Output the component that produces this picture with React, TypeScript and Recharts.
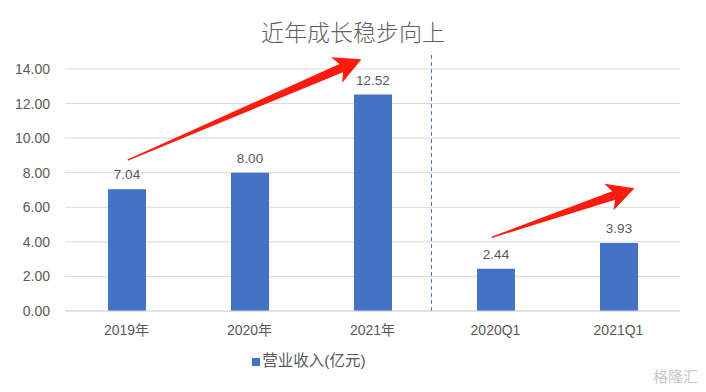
import React from 'react';
import {
  BarChart,
  Bar,
  XAxis,
  YAxis,
  CartesianGrid,
  Legend,
  LabelList,
  ReferenceLine,
} from 'recharts';

// categories and revenue (亿元)
const categories = ['2019年', '2020年', '2021年', '2020Q1', '2021Q1'];
const revenue = [7.04, 8.0, 12.52, 2.44, 3.93];
const yTicks = [0, 2, 4, 6, 8, 10, 12, 14];

// annotation arrows, in (category-band units, value) coordinates
const arrowTails = [
  { x: 0.51, y: 8.73 },
  { x: 3.47, y: 4.26 },
];
const arrowTips = [
  { x: 2.41, y: 14.56 },
  { x: 4.63, y: 7.1 },
];
// dashed divider between annual and quarterly groups
const divider = [
  { x: 2.98, y: 0 },
  { x: 2.98, y: 15 },
];

const data = categories.map((name, i) => ({ name, value: revenue[i], pos: i + 0.5 }));

const GRAY = '#595959';
const BLUE = '#4472C4';
const FONT = "'Liberation Sans', Arial, 'Noto Sans CJK SC', sans-serif";

function Arrow(props: any) {
  const { x1, y1, x2, y2 } = props;
  const dx = x2 - x1;
  const dy = y2 - y1;
  const len = Math.sqrt(dx * dx + dy * dy);
  const ux = dx / len;
  const uy = dy / len;
  const nx = -uy;
  const ny = ux;
  const headLen = 27;
  const headHalf = 14;
  const shaftHalf = 4.5;
  const bx = x2 - ux * headLen;
  const by = y2 - uy * headLen;
  // inner notch a little ahead of the wings
  const ix = x2 - ux * (headLen - 5);
  const iy = y2 - uy * (headLen - 5);
  const pts = [
    [x1 + nx * 0.6, y1 + ny * 0.6],
    [ix + nx * shaftHalf, iy + ny * shaftHalf],
    [bx + nx * headHalf, by + ny * headHalf],
    [x2, y2],
    [bx - nx * headHalf, by - ny * headHalf],
    [ix - nx * shaftHalf, iy - ny * shaftHalf],
    [x1 - nx * 0.6, y1 - ny * 0.6],
  ];
  return <polygon points={pts.map((p) => p.join(',')).join(' ')} fill="#FF1A0E" />;
}

export default function App() {
  return (
    <div style={{ position: 'relative', width: 706, height: 392, margin: -8, background: '#fff', fontFamily: FONT }}>
      <div
        style={{
          position: 'absolute',
          left: 3,
          top: 4,
          width: 696,
          height: 383,
          border: '1px solid #d9d9d9',
          boxSizing: 'border-box',
        }}
      />
      <div
        style={{
          position: 'absolute',
          top: 16,
          left: 0,
          width: 706,
          textAlign: 'center',
          fontSize: 23,
          color: '#5f5f5f',
          fontFamily: "'Noto Sans CJK SC', sans-serif",
          fontWeight: 300,
          lineHeight: '30px',
        }}
      >
        近年成长稳步向上
      </div>
      <div
        style={{
          position: 'absolute',
          right: 8,
          bottom: 6,
          fontSize: 15,
          color: '#c8c8c8',
          fontFamily: "'Noto Sans CJK SC', sans-serif",
        }}
      >
        格隆汇
      </div>
      <div style={{ position: 'absolute', left: 0, top: 0 }}>
        <BarChart
          width={706}
          height={392}
          data={data}
          margin={{ top: 69, right: 26, bottom: 0, left: 0 }}
        >
          <CartesianGrid vertical={false} stroke="#d9d9d9" />
          <XAxis
            dataKey="name"
            height={30}
            tickLine={false}
            axisLine={{ stroke: '#d9d9d9' }}
            tick={{ fill: GRAY, fontSize: 14, fontFamily: FONT }}
            tickMargin={8}
            interval={0}
          />
          <XAxis
            xAxisId="n"
            dataKey="pos"
            type="number"
            domain={[0, 5]}
            allowDataOverflow
            hide
          />
          <YAxis
            width={65}
            domain={[0, 14]}
            ticks={yTicks}
            tickFormatter={(v: number) => v.toFixed(2)}
            axisLine={false}
            tickLine={false}
            tickSize={0}
            tickMargin={15}
            tick={{ fill: GRAY, fontSize: 14, fontFamily: FONT }}
          />
          <Legend
            verticalAlign="bottom"
            height={44}
            iconType="square"
            iconSize={8}
            wrapperStyle={{ paddingTop: 7, left: -26, fontFamily: FONT }}
            formatter={(v: string) => (
              <span style={{ color: GRAY, fontSize: 15.5, marginLeft: -2 }}>{v}</span>
            )}
          />
          <Bar dataKey="value" name="营业收入(亿元)" fill={BLUE} barSize={38} isAnimationActive={false}>
            <LabelList
              dataKey="value"
              position="top"
              offset={10}
              formatter={(v: any) => Number(v).toFixed(2)}
              style={{ fill: GRAY, fontSize: 13.5, fontFamily: FONT }}
            />
          </Bar>
          <ReferenceLine
            xAxisId="n"
            segment={divider}
            ifOverflow="visible"
            stroke={BLUE}
            strokeDasharray="4 3"
          />
          {arrowTails.map((t, i) => (
            <ReferenceLine
              key={i}
              xAxisId="n"
              segment={[t, arrowTips[i]]}
              ifOverflow="visible"
              shape={Arrow}
            />
          ))}
        </BarChart>
      </div>
    </div>
  );
}
